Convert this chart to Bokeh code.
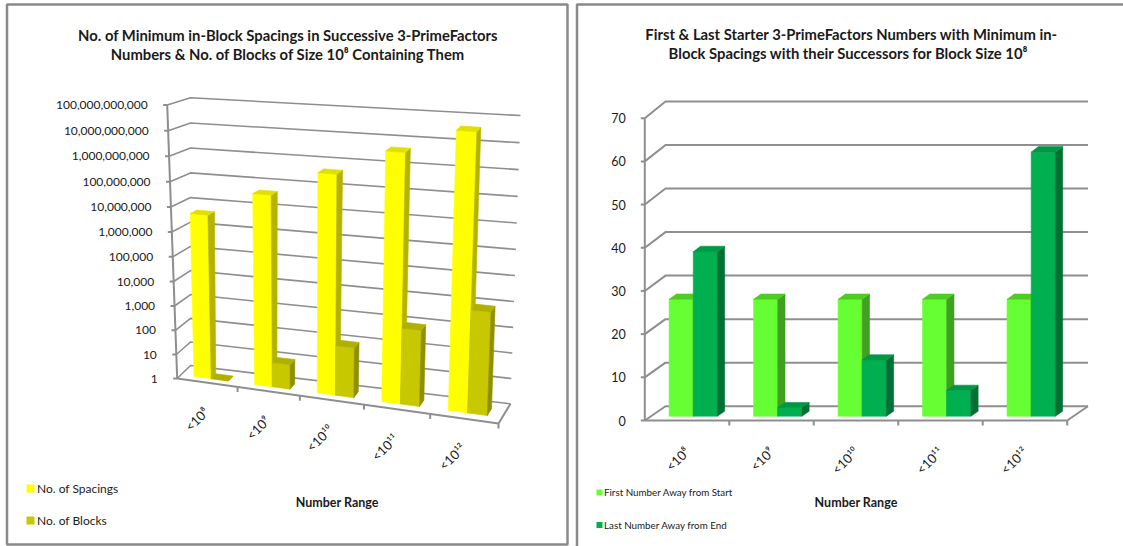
import numpy as np
from bokeh.plotting import figure
from bokeh.models import Range1d
from bokeh.core.properties import value
from bokeh.embed import file_html
from bokeh.resources import INLINE

# ---------------- data ----------------
number_ranges = ["<10⁸", "<10⁹", "<10¹⁰", "<10¹¹", "<10¹²"]

# left chart (log scale)
no_of_spacings = [4.7e6, 4.8e7, 5.0e8, 5.2e9, 4.6e10]
no_of_blocks = [1, 10, 100, 1000, 10000]
log_ticks = [1, 10, 100, 1e3, 1e4, 1e5, 1e6, 1e7, 1e8, 1e9, 1e10, 1e11]
log_tick_labels = ["1", "10", "100", "1,000", "10,000", "100,000", "1,000,000",
                   "10,000,000", "100,000,000", "1,000,000,000",
                   "10,000,000,000", "100,000,000,000"]

# right chart (linear scale)
first_away_from_start = [27, 27, 27, 27, 27]
last_away_from_end = [38, 2, 13, 6, 61]
lin_ticks = [0, 10, 20, 30, 40, 50, 60, 70]
lin_tick_labels = ["0", "10", "20", "30", "40", "50", "60", "70"]

FONT = value("Lato")
GRID = "#8e8e8e"
TEXT = "#1a1a1a"

W, H = 1123, 546
p = figure(width=W, height=H, x_range=Range1d(0, W), y_range=Range1d(H, 0),
           output_backend="svg", toolbar_location=None, min_border=0)
p.axis.visible = False
p.grid.visible = False
p.outline_line_color = None
p.background_fill_color = "white"
p.border_fill_color = "white"


def box_projection(corners, ku=1.0, kv=1.0):
    """Map (u, v, w) in the unit cube (category, value, depth) onto the page
    by interpolating the eight projected corners of the plot box."""
    c = {k: np.array(xy, float) for k, xy in corners.items()}

    def warp(t, k):
        return t / (t + k * (1.0 - t))

    def proj(u, v, w):
        u, v = warp(u, ku), warp(v, kv)
        pt = np.zeros(2)
        for iu in (0, 1):
            for iv in (0, 1):
                for iw in (0, 1):
                    wt = ((u if iu else 1 - u) * (v if iv else 1 - v)
                          * (w if iw else 1 - w))
                    pt = pt + wt * c[(iu, iv, iw)]
        return pt
    return proj


def lines_from(segments, color=GRID, width=1.6):
    xs = [[pt[0] for pt in seg] for seg in segments]
    ys = [[pt[1] for pt in seg] for seg in segments]
    p.multi_line(xs, ys, line_color=color, line_width=width)


def draw_frame(proj, vs, tick_texts, label_gap, label_size, grid_width):
    segs = []
    for v in vs:
        segs.append([proj(0, v, 0), proj(0, v, 1), proj(1, v, 1)])
    lines_from(segs, width=grid_width)
    # value axis, its ticks and the floor
    axis = [[proj(0, 0, 0), proj(0, 1, 0)]]
    ticks = [[proj(0, v, 0) - np.array([4, 0]), proj(0, v, 0)] for v in vs]
    floor = [[proj(0, 0, 0), proj(1, 0, 0), proj(1, 0, 1)]]
    cat_ticks = [[proj(i / 5, 0, 0), proj(i / 5, 0, 0) + np.array([0, 5])]
                 for i in range(1, 6)]
    lines_from(axis + ticks + floor + cat_ticks, width=2)
    lx = [proj(0, v, 0)[0] - label_gap for v in vs]
    ly = [proj(0, v, 0)[1] for v in vs]
    p.text(lx, ly, text=tick_texts, text_align="right", text_baseline="middle",
           text_font=FONT, text_font_size=value(label_size), text_color=TEXT)


def draw_columns(proj, series_v, palettes, w0=0.3, w1=0.65):
    n_series = len(series_v)
    bar = 1.0 / (n_series + 1.5)
    xs, ys, fills = [], [], []
    for i in range(len(number_ranges)):
        for s, vals in enumerate(series_v):
            u0 = (i + 0.75 * bar + s * bar) / 5
            u1 = (i + 0.75 * bar + (s + 1) * bar) / 5
            v1 = vals[i]
            front_c, side_c, top_c = palettes[s]
            faces = [
                ([proj(u0, 0, w0), proj(u1, 0, w0), proj(u1, v1, w0), proj(u0, v1, w0)], front_c),
                ([proj(u1, 0, w0), proj(u1, 0, w1), proj(u1, v1, w1), proj(u1, v1, w0)], side_c),
                ([proj(u0, v1, w0), proj(u1, v1, w0), proj(u1, v1, w1), proj(u0, v1, w1)], top_c),
            ]
            for pts, col in faces:
                xs.append([pt[0] for pt in pts])
                ys.append([pt[1] for pt in pts])
                fills.append(col)
    p.patches(xs, ys, fill_color=fills, line_color=fills, line_width=0.6)


def draw_categories(proj, offset, size):
    pts = [proj((i + 0.5) / 5, 0, 0) + np.array(offset) for i in range(5)]
    p.text([q[0] for q in pts], [q[1] for q in pts], text=number_ranges,
           angle=np.pi / 4, text_align="right", text_baseline="middle",
           text_font=FONT, text_font_size=value(size), text_color=TEXT)


def panel_border(x0, y0, x1, y1):
    p.quad(left=[x0], right=[x1], top=[y0], bottom=[y1], fill_color=None,
           line_color="#8a8a8a", line_width=2.5)


# ---------------- left chart: log-scaled counts ----------------
panel_border(6.5, 4, 567, 544)
left_proj = box_projection({
    (0, 0, 0): (176.7, 378.0), (0, 1, 0): (166.7, 104.5),
    (0, 0, 1): (190.0, 365.0), (0, 1, 1): (190.0, 97.3),
    (1, 0, 0): (498.0, 423.0), (1, 1, 0): (510.0, 128.4),
    (1, 0, 1): (510.0, 403.3), (1, 1, 1): (520.0, 115.0),
}, ku=1.08, kv=1.04)

log_max = np.log10(log_ticks[-1])
to_log_v = lambda vals: [np.log10(x) / log_max for x in vals]
draw_frame(left_proj, to_log_v(log_ticks), log_tick_labels, 19.5, "12px", 1.6)
draw_columns(left_proj, [to_log_v(no_of_spacings), to_log_v(no_of_blocks)],
             [("#ffff00", "#b3b300", "#e0e000"), ("#c8c800", "#8f8f00", "#b0b000")])
draw_categories(left_proj, (-1, 27), "13px")

p.text([287.5, 287.5], [34, 53],
       text=["No. of Minimum in-Block Spacings in Successive 3-PrimeFactors",
             "Numbers & No. of Blocks of Size 10⁸ Containing Them"],
       text_align="center", text_baseline="middle", text_font=FONT,
       text_font_style="bold", text_font_size=value("14.8px"), text_color=TEXT)
p.text([336.7], [501.7], text=["Number Range"], text_align="center",
       text_baseline="middle", text_font=FONT, text_font_style="bold",
       text_font_size=value("12.5px"), text_color=TEXT)
p.quad(left=[26, 26], right=[34, 34], top=[484, 516], bottom=[492, 524],
       fill_color=["#ffff00", "#c8c800"], line_color=None)
p.text([36.5, 36.5], [488, 520], text=["No. of Spacings", "No. of Blocks"],
       text_baseline="middle", text_font=FONT, text_font_size=value("12px"),
       text_color=TEXT)

# ---------------- right chart: distances ----------------
panel_border(576.5, 4, 1135, 560)
right_proj = box_projection({
    (0, 0, 0): (644.3, 420.0), (0, 1, 0): (644.3, 117.7),
    (0, 0, 1): (665.0, 405.7), (0, 1, 1): (665.0, 101.0),
    (1, 0, 0): (1066.7, 420.0), (1, 1, 0): (1066.7, 117.7),
    (1, 0, 1): (1087.5, 405.7), (1, 1, 1): (1087.5, 101.0),
})
lin_max = lin_ticks[-1]
to_lin_v = lambda vals: [x / lin_max for x in vals]
draw_frame(right_proj, to_lin_v(lin_ticks), lin_tick_labels, 19, "12.5px", 2.0)
draw_columns(right_proj, [to_lin_v(first_away_from_start), to_lin_v(last_away_from_end)],
             [("#66ff33", "#40a020", "#4fcc24"), ("#00b050", "#007034", "#009844")])
draw_categories(right_proj, (0, 29), "13px")

p.text([851, 848], [33.3, 52.3],
       text=["First & Last Starter 3-PrimeFactors Numbers with Minimum in-",
             "Block Spacings with their Successors for Block Size 10⁸"],
       text_align="center", text_baseline="middle", text_font=FONT,
       text_font_style="bold", text_font_size=value("14.8px"), text_color=TEXT)
p.text([855.6], [501.7], text=["Number Range"], text_align="center",
       text_baseline="middle", text_font=FONT, text_font_style="bold",
       text_font_size=value("12.5px"), text_color=TEXT)
p.quad(left=[596, 596], right=[602, 602], top=[489, 521.5], bottom=[495, 527.5],
       fill_color=["#66ff33", "#00b050"], line_color=None)
p.text([603.5, 603.5], [491.7, 524.5],
       text=["First Number  Away from Start", "Last Number  Away from End"],
       text_baseline="middle", text_font=FONT, text_font_size=value("9.8px"),
       text_color=TEXT)

open("out.html", "w").write(file_html(p, INLINE))
